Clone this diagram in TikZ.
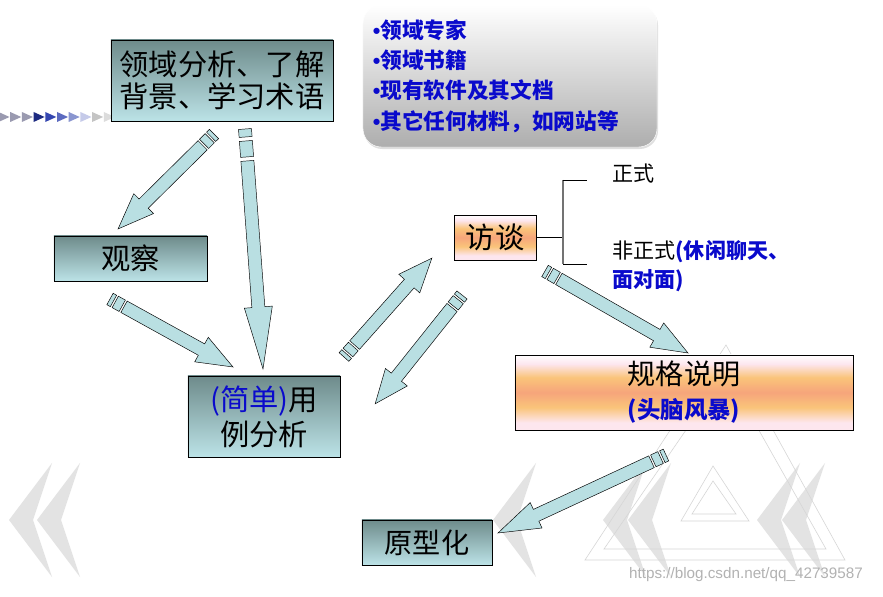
\documentclass[tikz,border=0pt]{standalone}
\usepackage{fontspec}
\setmainfont{Noto Sans CJK SC}
\newfontfamily\latinfont{Liberation Sans}
\usetikzlibrary{shadows,calc}
\definecolor{TealTop}{HTML}{6E8B8B}
\definecolor{TealBot}{HTML}{BCE3E7}
\definecolor{ArrowFill}{HTML}{B9DFE2}
\definecolor{BlueInk}{HTML}{0A0ACC}
\definecolor{PinkLt}{HTML}{FDE6EE}
\definecolor{OrangeLt}{HTML}{FAC47A}
\definecolor{Salmon}{HTML}{F6A57B}
\definecolor{TriGray}{HTML}{9A9AB0}
\definecolor{TriNavy}{HTML}{1C2A80}
\definecolor{TriBlue}{HTML}{3446B0}
\definecolor{TriMid}{HTML}{5C6BC0}
\definecolor{TriPeri}{HTML}{8A96D0}
\definecolor{TriLav}{HTML}{C5CAE9}
\definecolor{TriLgray}{HTML}{C4C4C4}
\definecolor{TriVlgray}{HTML}{DCDCDC}
\pgfdeclareverticalshading{peach}{100bp}{color(0bp)=(PinkLt); color(25bp)=(PinkLt); color(30bp)=(PinkLt); color(40bp)=(OrangeLt); color(50bp)=(Salmon); color(60bp)=(OrangeLt); color(69bp)=(PinkLt); color(75bp)=(white); color(100bp)=(white)}

% striped block arrow: tail, tip, head length, stripe scale
\newcommand\blockarrow[4]{%
  \pgfpointdiff{\pgfpointanchor{#1}{center}}{\pgfpointanchor{#2}{center}}%
  \pgfgetlastxy{\arrdx}{\arrdy}%
  \pgfmathsetmacro\arrang{atan2(\arrdy,\arrdx)}%
  \pgfmathsetmacro\arrlen{veclen(\arrdx,\arrdy)/0.853583}%
  \begin{scope}[shift={(#1)},rotate=\arrang,y=0.03cm]
    \filldraw[blockarrow] (0,-6.5) rectangle (4*#4,6.5);
    \filldraw[blockarrow] (6*#4,-6.5) rectangle (14*#4,6.5);
    \filldraw[blockarrow] (16*#4,-6.5) -- (\arrlen-#3,-6.5) -- (\arrlen-#3,-14) -- (\arrlen,0)
      -- (\arrlen-#3,14) -- (\arrlen-#3,6.5) -- (16*#4,6.5) -- cycle;
  \end{scope}}

\begin{document}
\begin{tikzpicture}[x=0.03cm,y=-0.03cm,
  tealbox/.style={draw=black,line width=0.8pt,top color=TealTop,bottom color=TealBot,inner sep=0pt,align=center},
  peachbox/.style={draw=black,line width=0.8pt,shading=peach,inner sep=0pt,align=center},
  blockarrow/.style={fill=ArrowFill,draw=black,line width=0.4pt,line join=miter},
  chevron/.style={fill=black!11},
  logo/.style={draw=black!16,line width=0.5pt},
  bracket/.style={draw=black,line width=0.6pt}]
\useasboundingbox (0,0) rectangle (883,597);
\fill[white] (0,0) rectangle (883,597);

% background decoration
\foreach \cx in {9,37,493,603,628,757,782}
  \fill[chevron] (\cx+43,463) -- (\cx,520) -- (\cx+43,577) -- (\cx+24,520) -- cycle;
\draw[logo] (726,345) -- (585,560) -- (845,560) -- cycle;
\draw[logo] (726,372) -- (604,549) -- (826,549) -- cycle;
\draw[logo] (713,466) -- (681,521) -- (749,521) -- cycle;
\draw[logo] (713,481) -- (692,514) -- (736,514) -- cycle;
\foreach \c [count=\i from 0] in {TriGray,TriGray,TriGray,TriNavy,TriBlue,TriMid,TriPeri,TriLav,TriLgray,TriVlgray}
  \fill[\c] (11.7*\i-1.5,112) -- (11.7*\i+9.5,117) -- (11.7*\i-1.5,122) -- cycle;
\node[font=\latinfont\fontsize{13}{13}\selectfont,text=black!30] (watermark) at (746,575) {https://blog.csdn.net/qq\_42739587};

% boxes
\node[tealbox,minimum width=6.66cm,minimum height=2.43cm,font=\fontsize{25}{27.5}\selectfont] (domain) at (222,80.5) {领域分析、了解\\背景、学习术语};
\node[tealbox,minimum width=4.59cm,minimum height=1.35cm,font=\fontsize{25}{30}\selectfont] (observe) at (130.5,258.5) {观察};
\node[tealbox,minimum width=4.56cm,minimum height=2.43cm,font=\fontsize{25}{30}\selectfont] (usecase) at (264,416.5) {{\color{BlueInk}(简单)}用\\例分析};
\node[peachbox,minimum width=2.46cm,minimum height=1.35cm,font=\fontsize{25}{30}\selectfont] (interview) at (495,237.5) {访谈};
\node[peachbox,minimum width=10.14cm,minimum height=2.25cm,font=\fontsize{24}{29}\selectfont] (spec) at (684,392.5) {规格说明\\{\fontsize{20}{29}\selectfont\bfseries\color{BlueInk}(头脑风暴)}};
\node[tealbox,minimum width=3.9cm,minimum height=1.35cm,font=\fontsize{24}{30}\selectfont] (proto) at (427,542.5) {原型化};
\node[draw=white,rounded corners=0.55cm,top color=white,bottom color=black!32,
  drop shadow={shadow xshift=0.3mm,shadow yshift=-0.6mm,opacity=0.25},
  minimum width=8.82cm,minimum height=4.26cm,inner xsep=0.3cm,text width=8.22cm,align=left,
  font=\fontsize{18.5}{26}\selectfont\bfseries,text=BlueInk] (sources) at (510,76)
  {{\latinfont •}领域专家\\{\latinfont •}领域书籍\\{\latinfont •}现有软件及其文档\\{\latinfont •}其它任何材料，如网站等};

% interview branches
\coordinate (fork) at (563,237.5);
\coordinate (forkTop) at (563,180);
\coordinate (forkBot) at (563,264);
\coordinate (formalEnd) at (587,180);
\coordinate (informalEnd) at (587,264);
\draw[bracket] (interview.east) -- (fork);
\draw[draw=black!55,line width=1.2pt] (forkTop) -- (forkBot);
\draw[bracket] (forkTop) -- (formalEnd);
\draw[bracket] (forkBot) -- (informalEnd);
\node[anchor=west,inner sep=0pt,font=\fontsize{18}{25}\selectfont] (formal) at (612,174) {正式};
\node[anchor=north west,inner sep=0pt,align=left,font=\fontsize{18}{25}\selectfont] (informal) at (612,240)
  {非正式{\bfseries\color{BlueInk}(休闲聊天、}\\{\bfseries\color{BlueInk}面对面)}};

% arrows
\coordinate (a1s) at (214,134);  \coordinate (a1e) at (118,229);
\coordinate (a2s) at (245,129);  \coordinate (a2e) at (263,369);
\coordinate (a3s) at (110,299);  \coordinate (a3e) at (233,367);
\coordinate (a4s) at (344,357);  \coordinate (a4e) at (432,258);
\coordinate (a5s) at (462,295);  \coordinate (a5e) at (375,404);
\coordinate (a6s) at (545,271);  \coordinate (a6e) at (688,353);
\coordinate (a7s) at (666,455);  \coordinate (a7e) at (498,533);
\blockarrow{a1s}{a1e}{36}{1}
\blockarrow{a2s}{a2e}{62}{2}
\blockarrow{a3s}{a3e}{36}{1}
\blockarrow{a4s}{a4e}{34}{1}
\blockarrow{a5s}{a5e}{34}{1}
\blockarrow{a6s}{a6e}{36}{1}
\blockarrow{a7s}{a7e}{42}{1}
\end{tikzpicture}
\end{document}
